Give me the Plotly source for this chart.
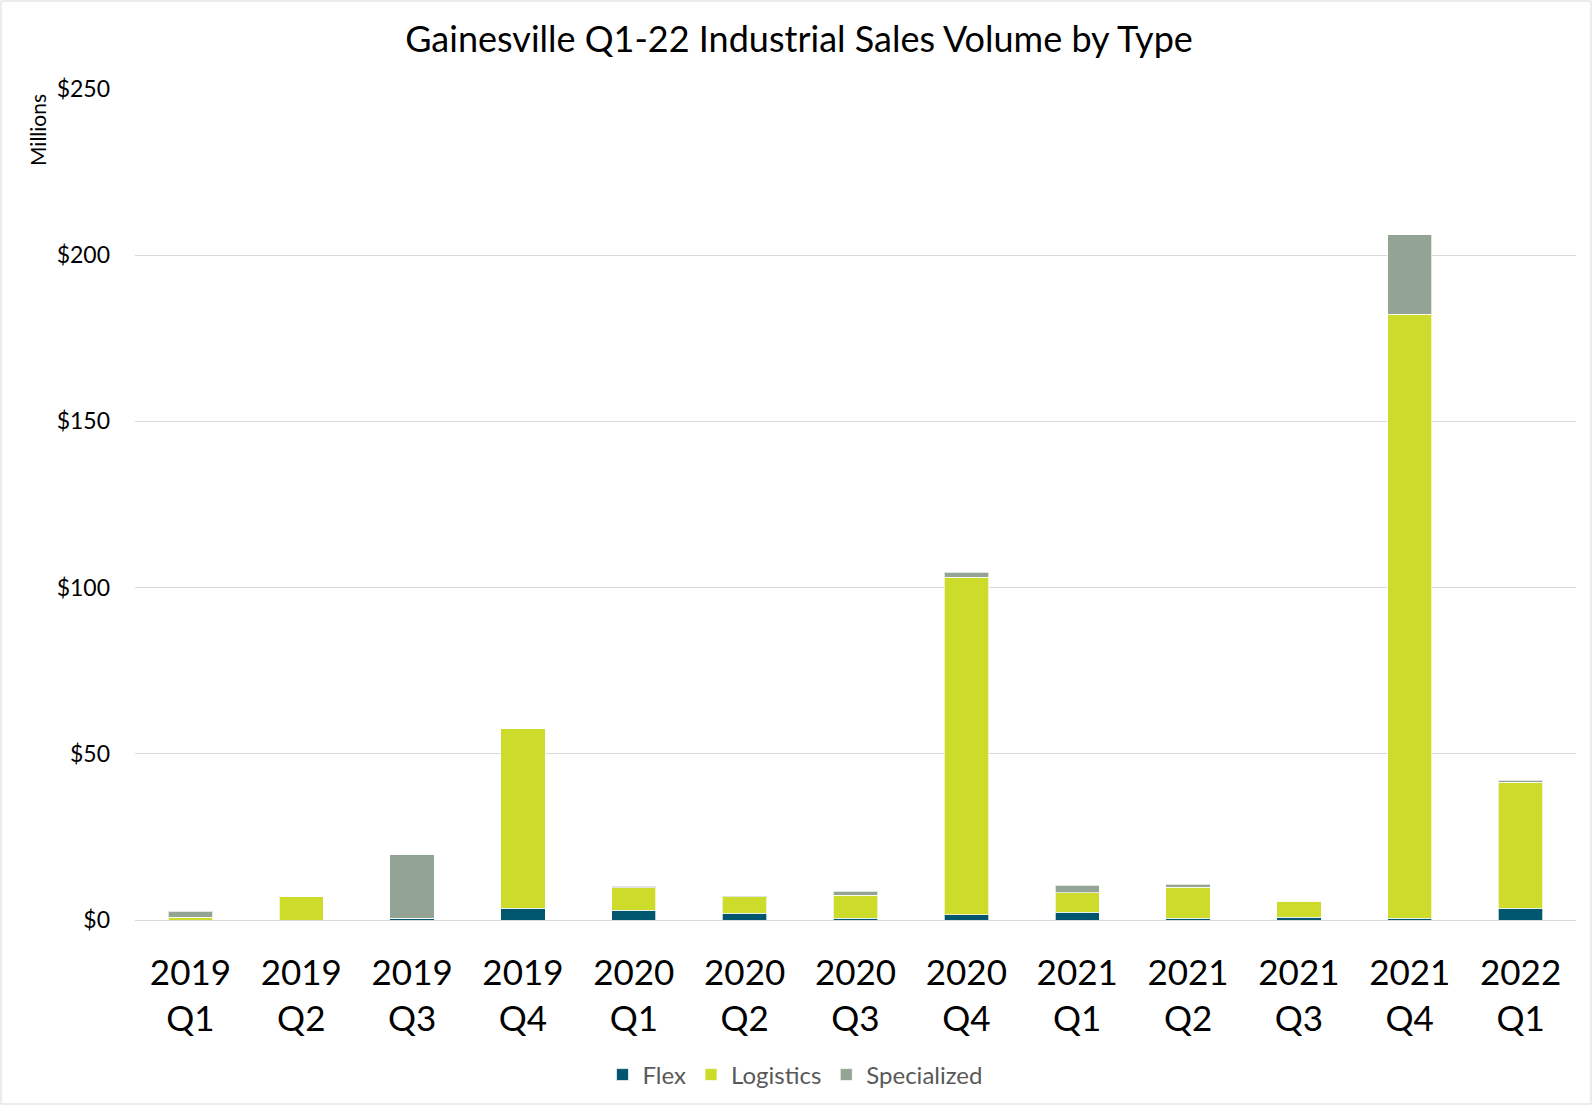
import plotly.graph_objects as go

# Quarterly industrial sales volume, millions of dollars
quarters = ["2019<br>Q1", "2019<br>Q2", "2019<br>Q3", "2019<br>Q4",
            "2020<br>Q1", "2020<br>Q2", "2020<br>Q3", "2020<br>Q4",
            "2021<br>Q1", "2021<br>Q2", "2021<br>Q3", "2021<br>Q4",
            "2022<br>Q1"]
flex = [0.0, 0.0, 0.6, 3.5, 3.0, 2.0, 0.6, 1.6, 2.4, 0.5, 0.8, 0.5, 3.5]
logistics = [0.9, 7.0, 0.0, 54.1, 6.7, 5.0, 6.8, 101.5, 5.8, 9.3, 4.9, 181.7, 37.9]
specialized = [1.8, 0.0, 19.0, 0.0, 0.4, 0.3, 1.2, 1.5, 2.2, 0.9, 0.0, 24.0, 0.6]

tick_vals = [0, 50, 100, 150, 200, 250]
tick_text = ["$0", "$50", "$100", "$150", "$200", "$250"]

series = [
    ("Flex", flex, "#01566F"),
    ("Logistics", logistics, "#CDDB2A"),
    ("Specialized", specialized, "#94A494"),
]

W, H = 1593, 1106
L, R, T, B = 135, 17, 89, 186

fig = go.Figure()
for name, vals, color in series:
    fig.add_trace(go.Bar(
        x=quarters, y=vals, name=name,
        marker=dict(color=color, line=dict(color="rgba(255,255,255,0.7)", width=1)),
    ))

fig.update_layout(
    width=W, height=H,
    barmode="stack",
    bargap=0.6,
    plot_bgcolor="white",
    paper_bgcolor="white",
    margin=dict(l=L, r=R, t=T, b=B, autoexpand=False),
    font=dict(family="Lato, 'Open Sans', sans-serif", color="#000000"),
    title=dict(
        text="Gainesville Q1-22 Industrial Sales Volume by Type",
        x=799 / W, xanchor="center",
        y=1 - 39 / H, yanchor="middle",
        font=dict(size=36, color="#000000"),
    ),
    xaxis=dict(
        showgrid=False, automargin=False,
        showline=True, linecolor="#d9d9d9", linewidth=1,
        tickfont=dict(size=35, color="#000000"),
        ticks="", ticklabelstandoff=22,
    ),
    yaxis=dict(
        range=[0, 250], automargin=False,
        tickvals=tick_vals, ticktext=tick_text,
        showgrid=True, gridcolor="#d9d9d9", gridwidth=1,
        zeroline=False, showline=False,
        tickfont=dict(size=23, color="#000000"),
        ticklabelstandoff=24,
    ),
    legend=dict(
        orientation="h",
        x=0.458, xanchor="center",
        y=-(1075 - 920) / 831, yanchor="middle",
        font=dict(size=24, color="#595959"),
        traceorder="normal",
    ),
    annotations=[
        dict(text="Millions", textangle=-90,
             xref="paper", yref="paper",
             x=(38 - L) / (W - L - R), y=(920 - 130) / 831,
             xanchor="center", yanchor="middle", showarrow=False,
             font=dict(size=21, color="#000000")),
    ],
    shapes=[
        dict(type="rect", xref="paper", yref="paper",
             x0=(1 - L) / (W - L - R), x1=(W - 2 - L) / (W - L - R),
             y0=(920 - (H - 2)) / 831, y1=(920 - 1) / 831,
             line=dict(color="#d9d9d9", width=1), layer="below"),
    ],
)

fig.write_html("out.html")
